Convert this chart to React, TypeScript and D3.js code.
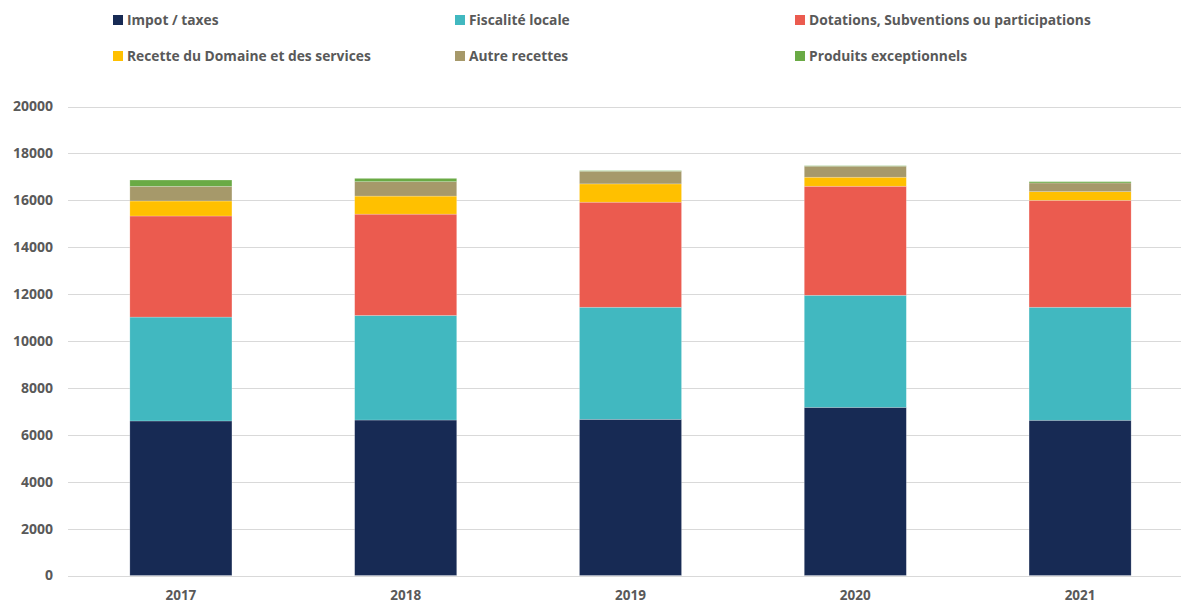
import React from "react";
import * as d3 from "d3";

const years = ["2017", "2018", "2019", "2020", "2021"];
const seriesNames = [
  "Impot / taxes",
  "Fiscalité locale",
  "Dotations, Subventions ou participations",
  "Recette du Domaine et des services",
  "Autre recettes",
  "Produits exceptionnels",
];
const impot = [6590, 6630, 6660, 7170, 6620];
const fiscalite = [4430, 4460, 4780, 4780, 4820];
const dotations = [4310, 4320, 4480, 4650, 4560];
const recette = [640, 770, 780, 385, 370];
const autre = [625, 615, 540, 470, 370];
const produits = [270, 140, 25, 20, 55];
const colors = ["#172A54", "#41B8C0", "#EB5B4F", "#FFC000", "#A6996A", "#6AAA45"];
const yTicks = [0, 2000, 4000, 6000, 8000, 10000, 12000, 14000, 16000, 18000, 20000];

const W = 1181;
const H = 604;
const font = "'Open Sans', 'Liberation Sans', sans-serif";
const textColor = "#595959";

export default function App() {
  const seriesData = [impot, fiscalite, dotations, recette, autre, produits];
  const rows = years.map((y, i) => {
    const r: any = { year: y };
    seriesNames.forEach((s, k) => (r[s] = seriesData[k][i]));
    return r;
  });
  const stacked = d3.stack<any>().keys(seriesNames)(rows);

  const x = d3.scaleBand().domain(years).range([68.5, 1192.5]).paddingInner(0.546).paddingOuter(0.273);
  const y = d3.scaleLinear().domain([0, 20000]).range([575.5, 106.5]);

  const legendPos = [
    [113, 20],
    [455, 20],
    [795, 20],
    [113, 56],
    [455, 56],
    [795, 56],
  ];

  return (
    <svg width={W} height={H} style={{ position: "absolute", left: 0, top: 0 }}>
      <rect width={W} height={H} fill="#fff" />
      {yTicks.map((t) => (
        <g key={t}>
          <line x1={68} x2={W} y1={Math.round(y(t)) + 0.5} y2={Math.round(y(t)) + 0.5} stroke="#D9D9D9" strokeWidth={1} />
          <text x={53} y={y(t)} dy="0.35em" textAnchor="end" fontFamily={font} fontWeight={700} fontSize={14} fill={textColor}>
            {t}
          </text>
        </g>
      ))}
      {stacked.map((s, k) => (
        <g key={s.key} fill={colors[k]}>
          {s.map((d, i) => (
            <rect
              key={i}
              x={x(years[i])}
              width={x.bandwidth()}
              y={y(d[1])}
              height={Math.max(0, y(d[0]) - y(d[1]))}
              stroke="#ffffff"
              strokeOpacity={0.35}
              strokeWidth={0.6}
            />
          ))}
        </g>
      ))}
      {years.map((yr) => (
        <text key={yr} x={(x(yr) || 0) + x.bandwidth() / 2} y={595} dy="0.35em" textAnchor="middle" fontFamily={font} fontWeight={700} fontSize={13.5} fill={textColor}>
          {yr}
        </text>
      ))}
      {seriesNames.map((s, k) => (
        <g key={s} transform={`translate(${legendPos[k][0]},${legendPos[k][1]})`}>
          <rect x={0} y={-5} width={10} height={10} fill={colors[k]} />
          <text x={14} y={0} dy="0.35em" fontFamily={font} fontWeight={700} fontSize={13.8} fill={textColor}>
            {s}
          </text>
        </g>
      ))}
    </svg>
  );
}
